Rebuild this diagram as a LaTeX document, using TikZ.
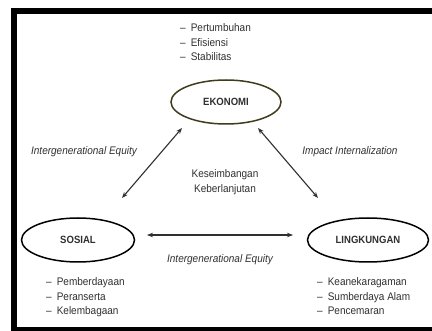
\documentclass[tikz,border=0pt]{standalone}
\usepackage{fontspec}
\setmainfont{Liberation Sans}[FakeStretch=0.91]
\usetikzlibrary{arrows.meta,shapes.geometric}
\definecolor{olivering}{HTML}{3F3C1E}
\definecolor{ink}{HTML}{303030}
\tikzset{
  pillar/.style={ellipse,draw=black,line width=1.5pt,minimum width=#1,minimum height=44pt,inner sep=0pt,text=ink,font=\bfseries\fontsize{10.5}{12}\selectfont},
  item/.style={anchor=base west,inner sep=0pt,text=ink,font=\fontsize{11}{12}\selectfont},
  lbl/.style={inner sep=0pt,text=ink,font=\itshape\fontsize{11}{12}\selectfont},
  link/.style={line width=1.1pt,draw=ink,{Stealth[length=6pt,width=4.5pt]}-{Stealth[length=6pt,width=4.5pt]}}
}
\newcommand{\dashitem}[1]{–\hspace{5pt}#1}
\begin{document}
\begin{tikzpicture}[x=1pt,y=-1pt]
\useasboundingbox (0,0) rectangle (432,331);
\fill[white] (0,0) rectangle (432,331);
% frame
\fill[black] (11,8) rectangle (432,14);
\fill[black] (11,8) rectangle (17,331);
\fill[black] (11,327) rectangle (432,331);

% pillars
\node[pillar=110pt,draw=olivering] (eko) at (226,102) {EKONOMI};
\node[pillar=113pt] (sos) at (78,240) {SOSIAL};
\node[pillar=121pt] (lin) at (368,240) {LINGKUNGAN};

% arrow endpoints
\coordinate (a1) at (182,128);
\coordinate (a2) at (122,198);
\coordinate (b1) at (258,128);
\coordinate (b2) at (318,198);
\coordinate (c1) at (147,235);
\coordinate (c2) at (293,235);
\draw[link] (a1) -- (a2);
\draw[link] (b1) -- (b2);
\draw[link] (c1) -- (c2);

% labels
\node[lbl] (l1) at (84,152) {Intergenerational Equity};
\node[lbl] (l2) at (350,152) {Impact Internalization};
\node[lbl] (l3) at (220,260) {Intergenerational Equity};
\node[inner sep=0pt,align=center,text=ink,font=\fontsize{11}{15}\selectfont] (mid) at (225,182) {Keseimbangan\\Keberlanjutan};

% lists
\node[item] (e1) at (180,32) {\dashitem{Pertumbuhan}};
\node[item] (e2) at (180,46.5) {\dashitem{Efisiensi}};
\node[item] (e3) at (180,61) {\dashitem{Stabilitas}};

\node[item] (s1) at (46,286) {\dashitem{Pemberdayaan}};
\node[item] (s2) at (46,301) {\dashitem{Peranserta}};
\node[item] (s3) at (46,315) {\dashitem{Kelembagaan}};

\node[item] (g1) at (317,286) {\dashitem{Keanekaragaman}};
\node[item] (g2) at (317,301) {\dashitem{Sumberdaya Alam}};
\node[item] (g3) at (317,315) {\dashitem{Pencemaran}};
\end{tikzpicture}
\end{document}
